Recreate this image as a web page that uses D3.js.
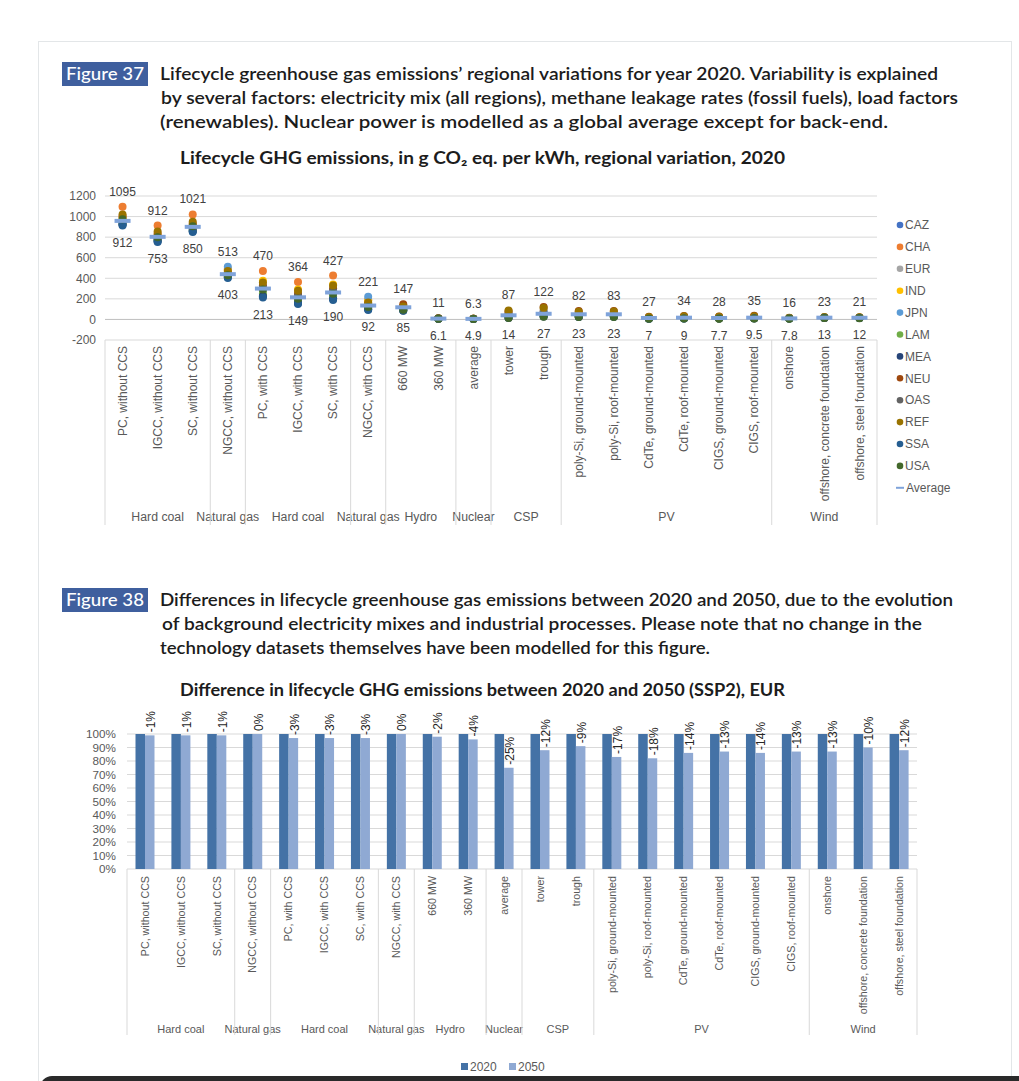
<!DOCTYPE html>
<html>
<head>
<meta charset="utf-8">
<script src="https://cdn.jsdelivr.net/npm/d3@7"></script>
<style>
body { margin: 0; background: #fff; }
svg text { font-family: "Liberation Sans", Arial, sans-serif; }
.cap { font-family: Lato, "Noto Sans", sans-serif; font-weight: 700; fill: #1c1c1c; }
</style>
</head>
<body>
<svg id="chart" width="1019" height="1081"></svg>
<script>
// ---- data ----
const categories = ["PC, without CCS", "IGCC, without CCS", "SC, without CCS", "NGCC, without CCS",
	"PC, with CCS", "IGCC, with CCS", "SC, with CCS", "NGCC, with CCS", "660 MW", "360 MW", "average",
	"tower", "trough", "poly-Si, ground-mounted", "poly-Si, roof-mounted", "CdTe, ground-mounted",
	"CdTe, roof-mounted", "CIGS, ground-mounted", "CIGS, roof-mounted", "onshore",
	"offshore, concrete foundation", "offshore, steel foundation"];

const groupNames = ["Hard coal", "Natural gas", "Hard coal", "Natural gas", "Hydro", "Nuclear", "CSP", "PV", "Wind"];
const groupSizes = [3, 1, 3, 1, 2, 1, 2, 6, 3];

const regions = ["CAZ", "CHA", "EUR", "IND", "JPN", "LAM", "MEA", "NEU", "OAS", "REF", "SSA", "USA"];

// g CO2 eq. per kWh, 2020, by region
const CAZ = [920, 760, 858, 410, 230, 165, 205, 105, 100, 7, 5.2, 45, 65, 50, 51, 16, 20, 17, 21, 8, 14, 13];
const CHA = [1095, 912, 1021, 490, 470, 364, 427, 190, 130, 9.5, 5.9, 55, 75, 45, 46, 14, 18, 15, 19, 11, 19, 18];
const EUR = [960, 790, 895, 440, 280, 200, 250, 130, 110, 7.5, 5.3, 60, 85, 60, 61, 19, 24, 20, 25, 9, 15, 14];
const IND = [985, 815, 915, 480, 375, 290, 340, 185, 120, 8.5, 6.0, 35, 50, 30, 31, 9, 12, 10, 12, 14, 21, 19];
const JPN = [940, 780, 875, 513, 300, 220, 270, 221, 115, 8, 5.6, 50, 70, 45, 46, 14, 18, 15, 19, 12, 18, 17];
const LAM = [930, 770, 865, 425, 250, 180, 220, 115, 90, 6.3, 5.1, 20, 35, 28, 29, 8.5, 11, 9, 11, 9, 15, 14];
const MEA = [925, 765, 860, 415, 225, 160, 200, 100, 85, 6.1, 4.9, 15, 28, 24, 25, 7.3, 9.4, 8, 10, 8.5, 14, 13];
const NEU = [1000, 830, 930, 455, 330, 250, 300, 150, 147, 11, 6.3, 80, 122, 82, 83, 27, 34, 28, 35, 12, 17, 16];
const OAS = [950, 790, 885, 445, 310, 230, 280, 145, 118, 8.2, 5.7, 40, 55, 35, 36, 11, 14, 12, 15, 13, 19, 18];
const REF = [1020, 855, 950, 470, 360, 280, 330, 165, 125, 9, 5.8, 87, 110, 75, 76, 24, 30, 25, 31, 16, 23, 21];
const SSA = [912, 753, 850, 403, 213, 149, 190, 92, 88, 6.2, 5.0, 18, 30, 25, 26, 7.8, 10, 8.4, 10.5, 10, 16, 15];
const USA = [975, 800, 905, 430, 290, 200, 250, 120, 95, 6.5, 5.0, 14, 27, 23, 23, 7, 9, 7.7, 9.5, 7.8, 13, 12];
const regionValues = [CAZ, CHA, EUR, IND, JPN, LAM, MEA, NEU, OAS, REF, SSA, USA];

const average = [958, 803, 900, 440, 300, 215, 262, 135, 118, 8, 5.5, 40, 55, 50, 50, 14, 17, 14, 17, 10, 17, 16];

const yTicks37 = [-200, 0, 200, 400, 600, 800, 1000, 1200];

// difference 2050 vs 2020, EUR, in %
const years = ["2020", "2050"];
const diff2050 = [-1, -1, -1, 0, -3, -3, -3, 0, -2, -4, -25, -12, -9, -17, -18, -14, -13, -14, -13, -13, -10, -12];
const yTicks38 = [0, 0.1, 0.2, 0.3, 0.4, 0.5, 0.6, 0.7, 0.8, 0.9, 1];

// ---- styles ----
const regionColors = ["#4472C4", "#ED7D31", "#A5A5A5", "#FFC000", "#5B9BD5", "#70AD47",
	"#264478", "#9E480E", "#636363", "#997300", "#255E91", "#43682B"];
const avgColor = "#7FA3DA";
const barColors = ["#4472A6", "#8FA9D3"];
const axisText = "#595959";
const gridColor = "#D9D9D9";

const svg = d3.select("#chart");

// page frame and bottom bar of the screenshot
svg.append("rect").attr("x", 38.5).attr("y", 41.5).attr("width", 973).attr("height", 1060)
	.attr("fill", "#fff").attr("stroke", "#E3E6E8");
svg.append("rect").attr("x", 40).attr("y", 1076).attr("width", 1000).attr("height", 30)
	.attr("rx", 12).attr("fill", "#2a2a2a");

// ---- captions ----
function fit(sel, w) {
	sel.attr("textLength", w).attr("lengthAdjust", "spacingAndGlyphs");
}

function caption(label, top, lines) {
	svg.append("rect").attr("x", 62).attr("y", top).attr("width", 86).attr("height", 24)
		.attr("fill", "#3F5F9E");
	svg.append("text").attr("class", "cap").attr("x", 66).attr("y", top + 18)
		.style("font-size", "17px").style("fill", "#fff").style("font-weight", 500)
		.text(label).call(fit, 78);
	lines.forEach((l, i) => {
		svg.append("text").attr("class", "cap").attr("x", l.x).attr("y", top + 18 + i * 24)
			.style("font-size", "17.5px").style("font-weight", 600)
			.text(l.t).call(fit, l.w);
	});
}

caption("Figure 37", 62, [
	{t: "Lifecycle greenhouse gas emissions’ regional variations for year 2020. Variability is explained", x: 160, w: 778},
	{t: "by several factors: electricity mix (all regions), methane leakage rates (fossil fuels), load factors", x: 161, w: 797},
	{t: "(renewables). Nuclear power is modelled as a global average except for back-end.", x: 160, w: 728}
]);
caption("Figure 38", 588, [
	{t: "Differences in lifecycle greenhouse gas emissions between 2020 and 2050, due to the evolution", x: 160, w: 793},
	{t: "of background electricity mixes and industrial processes. Please note that no change in the", x: 162, w: 760},
	{t: "technology datasets themselves have been modelled for this figure.", x: 160, w: 550}
]);

svg.append("text").attr("class", "cap").attr("x", 180).attr("y", 164).style("font-size", "16.5px")
	.text("Lifecycle GHG emissions, in g CO₂ eq. per kWh, regional variation, 2020").call(fit, 605);
svg.append("text").attr("class", "cap").attr("x", 180).attr("y", 696).style("font-size", "16.5px")
	.text("Difference in lifecycle GHG emissions between 2020 and 2050 (SSP2), EUR").call(fit, 605);

// ---- shared bits ----
function groupAxis(x, yTop, yBottom, labelY, catY, catSize) {
	const g = svg.append("g");
	// category labels
	categories.forEach((c, i) => {
		g.append("text")
			.attr("transform", `translate(${x(i) + x.bandwidth() / 2},${catY}) rotate(-90)`)
			.attr("dy", "0.35em")
			.style("text-anchor", "end")
			.style("font-size", catSize + "px")
			.style("fill", axisText)
			.text(c);
	});
	// group separators and names
	let start = 0;
	const edges = [x.range()[0]];
	groupSizes.forEach((n, k) => {
		const x0 = x(start), x1 = start + n < categories.length ? x(start + n) : x.range()[1];
		edges.push(x1);
		g.append("text")
			.attr("x", (x0 + x1) / 2).attr("y", labelY)
			.style("text-anchor", "middle")
			.style("font-size", (catSize + 0.3) + "px")
			.style("fill", axisText)
			.text(groupNames[k]);
		start += n;
	});
	g.selectAll(".sep").data(edges).enter().append("line")
		.attr("x1", d => d).attr("x2", d => d)
		.attr("y1", yTop).attr("y2", yBottom)
		.attr("stroke", gridColor);
}

// ============ Figure 37 chart ============
const x37 = d3.scaleBand().domain(d3.range(categories.length)).range([105, 877]);
const y37 = d3.scaleLinear().domain([-200, 1200]).range([340, 196]);

svg.append("g").selectAll("line").data(yTicks37).enter().append("line")
	.attr("x1", 105).attr("x2", 877)
	.attr("y1", d => y37(d)).attr("y2", d => y37(d))
	.attr("stroke", d => d === 0 ? "#BFBFBF" : gridColor);

const yAxis37 = svg.append("g").attr("transform", "translate(105,0)")
	.call(d3.axisLeft(y37).tickValues(yTicks37).tickFormat(d => String(d)).tickSize(0).tickPadding(9));
yAxis37.select(".domain").remove();
yAxis37.selectAll("text").style("font-size", "12px").style("fill", axisText)
	.style("font-family", "'Liberation Sans', Arial, sans-serif");

groupAxis(x37, 340, 525, 521, 346, 12);

const cx37 = i => x37(i) + x37.bandwidth() / 2;

// region markers
regionValues.forEach((vals, r) => {
	svg.append("g").selectAll("circle").data(vals).enter().append("circle")
		.attr("cx", (d, i) => cx37(i))
		.attr("cy", d => y37(d))
		.attr("r", 4)
		.attr("fill", regionColors[r]);
});

// average dashes
svg.append("g").selectAll("rect").data(average).enter().append("rect")
	.attr("x", (d, i) => cx37(i) - 8)
	.attr("y", d => y37(d) - 2)
	.attr("width", 16).attr("height", 4)
	.attr("fill", avgColor);

// max / min labels
const maxVals = categories.map((c, i) => d3.max(regionValues, v => v[i]));
const minVals = categories.map((c, i) => d3.min(regionValues, v => v[i]));
svg.append("g").selectAll("text").data(maxVals).enter().append("text")
	.attr("x", (d, i) => cx37(i)).attr("y", d => y37(d) - 11)
	.style("text-anchor", "middle").style("font-size", "12px").style("fill", "#404040")
	.text(d => String(d));
svg.append("g").selectAll("text").data(minVals).enter().append("text")
	.attr("x", (d, i) => cx37(i)).attr("y", d => y37(d) + 21)
	.style("text-anchor", "middle").style("font-size", "12px").style("fill", "#404040")
	.text(d => String(d));

// legend
const leg = svg.append("g").attr("transform", "translate(900,225)");
regions.forEach((r, i) => {
	leg.append("circle").attr("cx", 0).attr("cy", i * 21.9).attr("r", 3.3).attr("fill", regionColors[i]);
	leg.append("text").attr("x", 5).attr("y", i * 21.9).attr("dy", "0.35em")
		.style("font-size", "12px").style("fill", axisText).text(r);
});
leg.append("rect").attr("x", -4).attr("y", 12 * 21.9 - 1).attr("width", 8).attr("height", 2).attr("fill", avgColor);
leg.append("text").attr("x", 6).attr("y", 12 * 21.9).attr("dy", "0.35em")
	.style("font-size", "12px").style("fill", axisText).text("Average");

// ============ Figure 38 chart ============
const x38 = d3.scaleBand().domain(d3.range(categories.length)).range([127, 917]);
const xYear = d3.scaleBand().domain(years).range([8.5, 27.5]);
const y38 = d3.scaleLinear().domain([0, 1]).range([869, 734]);

svg.append("g").selectAll("line").data(yTicks38).enter().append("line")
	.attr("x1", 127).attr("x2", 917)
	.attr("y1", d => y38(d)).attr("y2", d => y38(d))
	.attr("stroke", gridColor);

const yAxis38 = svg.append("g").attr("transform", "translate(127,0)")
	.call(d3.axisLeft(y38).tickValues(yTicks38).tickFormat(d3.format(".0%")).tickSize(0).tickPadding(11));
yAxis38.select(".domain").remove();
yAxis38.selectAll("text").style("font-size", "11.7px").style("fill", axisText)
	.style("font-family", "'Liberation Sans', Arial, sans-serif");

groupAxis(x38, 869, 1035, 1033, 876, 10.7);

const barData = [];
diff2050.forEach((d, i) => {
	barData.push({i: i, year: "2020", v: 1});
	barData.push({i: i, year: "2050", v: 1 + d / 100});
});

svg.append("g").selectAll("rect").data(barData).enter().append("rect")
	.attr("x", d => x38(d.i) + xYear(d.year))
	.attr("y", d => y38(d.v))
	.attr("width", xYear.bandwidth())
	.attr("height", d => y38(0) - y38(d.v))
	.attr("fill", d => d.year === "2020" ? barColors[0] : barColors[1]);

// rotated labels above 2050 bars
svg.append("g").selectAll("text").data(diff2050).enter().append("text")
	.attr("transform", (d, i) => `translate(${x38(i) + xYear("2050") + xYear.bandwidth() / 2 + 1},${y38(1 + d / 100) - 3}) rotate(-90)`)
	.attr("dy", "0.35em")
	.style("font-size", "12px").style("fill", "#262626")
	.text(d => d + "%");

// legend
const leg38 = svg.append("g").attr("transform", "translate(461,1067)");
years.forEach((yr, k) => {
	leg38.append("rect").attr("x", k * 48).attr("y", -4).attr("width", 7).attr("height", 7).attr("fill", barColors[k]);
	leg38.append("text").attr("x", k * 48 + 9).attr("y", 0).attr("dy", "0.35em")
		.style("font-size", "12px").style("fill", axisText).text(yr);
});
</script>
</body>
</html>
